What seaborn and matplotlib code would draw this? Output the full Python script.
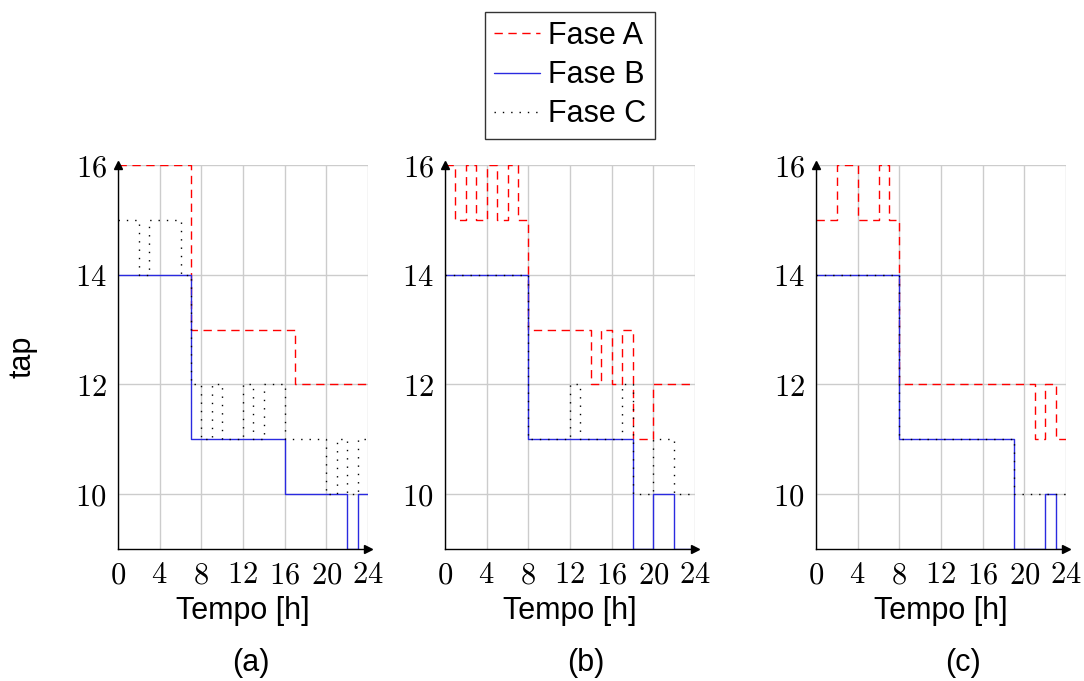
import numpy as np
import pandas as pd
import matplotlib
matplotlib.use('Agg')
import matplotlib.pyplot as plt
import seaborn as sns

# tap value held during each hour 0..23, one block per case (a), (b), (c)
hours = list(range(25))
fases = ['Fase A', 'Fase B', 'Fase C']

tap_a = {
    'Fase A': [16]*7 + [13]*10 + [12]*7,
    'Fase B': [14]*7 + [11]*9 + [10]*6 + [9, 10],
    'Fase C': [15, 15, 14, 15, 15, 15, 14, 12, 11, 12, 11, 11, 12, 11, 12, 12,
               11, 11, 11, 11, 10, 11, 10, 11],
}
tap_b = {
    'Fase A': [16, 15, 16, 15, 16, 15, 16, 15] + [13]*6 + [12, 13, 12, 13, 11, 11] + [12]*4,
    'Fase B': [14]*8 + [11]*10 + [9, 9, 10, 10, 9, 9],
    'Fase C': [14]*8 + [11]*4 + [12] + [11]*4 + [12, 10, 10, 11, 11, 10, 10],
}
tap_c = {
    'Fase A': [15, 15, 16, 16, 15, 15, 16, 15] + [12]*13 + [11, 12, 11],
    'Fase B': [14]*8 + [11]*11 + [9, 9, 9, 10, 9],
    'Fase C': [14]*8 + [11]*11 + [10]*5,
}
cases = [tap_a, tap_b, tap_c]
case_labels = ['(a)', '(b)', '(c)']

sns.set_style('white')
plt.rcParams['font.family'] = ['Liberation Sans', 'DejaVu Sans']
plt.rcParams['mathtext.fontset'] = 'cm'
plt.rcParams['text.color'] = 'black'
plt.rcParams['xtick.labelcolor'] = 'black'
plt.rcParams['ytick.labelcolor'] = 'black'

palette = {'Fase A': '#ff0000', 'Fase B': '#2a2ae0', 'Fase C': 'black'}
dashes = {'Fase A': (6, 4), 'Fase B': '', 'Fase C': (1, 5)}

W, H = 1084, 681
fig = plt.figure(figsize=(W / 100, H / 100), dpi=100)
lefts = [118, 445, 816]
label_x = [251, 586, 963]
fs = 22

for i, (case, left) in enumerate(zip(cases, lefts)):
    ax = fig.add_axes([left / W, 1 - 549 / H, 250 / W, 384 / H])
    rows = []
    for f in fases:
        vals = case[f] + [case[f][-1]]
        for h, v in zip(hours, vals):
            rows.append({'hora': h, 'tap': v, 'fase': f})
    df = pd.DataFrame(rows)
    sns.lineplot(data=df, x='hora', y='tap', hue='fase', style='fase',
                 hue_order=fases, style_order=fases, palette=palette,
                 dashes=dashes, drawstyle='steps-post', estimator=None,
                 linewidth=1.0, ax=ax, legend=(i == 0))
    ax.set_xlim(0, 24)
    ax.set_ylim(9, 16)
    ax.set_xticks(range(0, 25, 4))
    ax.set_yticks([10, 12, 14, 16])
    ax.set_xticklabels([f'${t}$' for t in range(0, 25, 4)])
    ax.set_yticklabels([f'${t}$' for t in [10, 12, 14, 16]])
    ax.tick_params(labelsize=fs, direction='inout', length=8, color='#bbbbbb', pad=4)
    ax.grid(True, color='#cccccc', linewidth=1.0)
    for s in ['top', 'right']:
        ax.spines[s].set_visible(False)
    for s in ['left', 'bottom']:
        ax.spines[s].set_color('black')
        ax.spines[s].set_linewidth(1.0)
    ax.plot(1, 0, '>k', ms=6, transform=ax.transAxes, clip_on=False)
    ax.plot(0, 1, '^k', ms=6, transform=ax.transAxes, clip_on=False)
    ax.set_xlabel('')
    ax.set_ylabel('')
    fig.text((left + 125) / W, 1 - 611 / H, 'Tempo [h]', ha='center', va='center', fontsize=fs)
    fig.text(label_x[i] / W, 1 - 663 / H, case_labels[i], ha='center', va='center', fontsize=fs)
    if i == 0:
        handles, labels = ax.get_legend_handles_labels()
        ax.get_legend().remove()

fig.text(23 / W, 1 - 357 / H, 'tap', rotation=90, ha='center', va='center', fontsize=fs)

leg = fig.legend(handles, labels, loc='upper center', bbox_to_anchor=(570 / W, 1 - 12 / H),
                 fontsize=fs, frameon=True, fancybox=False, edgecolor='black',
                 handlelength=1.5, handletextpad=0.25, labelspacing=0.3, borderpad=0.3,
                 borderaxespad=0)
leg.get_frame().set_linewidth(1.0)

fig.savefig('out.png', dpi=100)
